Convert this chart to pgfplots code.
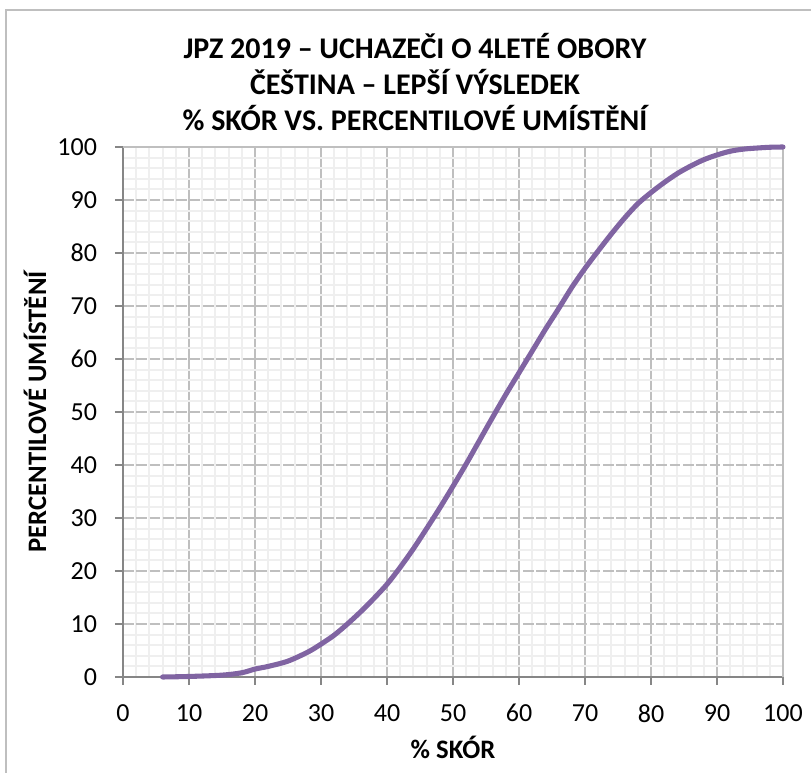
\documentclass[border=0pt]{standalone}
\usepackage{pgfplots}
\pgfplotsset{compat=1.18}
\usepackage{fontspec}
\setmainfont{Carlito}
\definecolor{curve}{HTML}{8064A2}
\definecolor{majgrid}{HTML}{BFBFBF}
\definecolor{mingrid}{HTML}{EFEFEF}
\definecolor{axisgray}{HTML}{868686}

\begin{document}
\begin{tikzpicture}
\useasboundingbox (0,0) rectangle (608.25pt,579pt);
% chart frame (only left and top edges visible)
\draw[majgrid, line width=1.2pt] (4.5pt,-10pt) -- (4.5pt,571.5pt) -- (640pt,571.5pt);

\begin{axis}[
    at={(92.25pt,71.25pt)}, anchor=south west,
    scale only axis,
    width=495pt, height=397.5pt,
    xmin=0, xmax=100, ymin=0, ymax=100,
    xtick={0,10,...,100}, ytick={0,10,...,100},
    minor tick num=4,
    axis lines=left,
    axis line style={axisgray, line width=1.2pt, -},
    tick align=outside,
    major tick length=6pt, minor tick length=0pt,
    tick style={axisgray, line width=1pt},
    grid=both,
    minor grid style={mingrid, line width=1.5pt},
    major x grid style={majgrid, line width=1.2pt},
    major y grid style={majgrid, line width=1.2pt, dash pattern=on 8pt off 2pt},
    /pgf/number format/assume math mode=true,
    ticklabel style={font=\fontsize{19.5}{22}\selectfont},
    xticklabel style={yshift=-11pt},
    yticklabel style={xshift=-10pt},
    clip=false,
]
\draw[majgrid, line width=1.2pt] (rel axis cs:0,1) -- (rel axis cs:1,1) -- (rel axis cs:1,0);
\addplot[curve, line width=3.8pt, smooth, line cap=round] coordinates {
(6,0) (10,0.1) (15,0.35) (18,0.8) (20,1.5) (22,2.0) (25,3.0) (28,4.7) (30,6.2)
(32,7.9) (34,10) (36,12.3) (38,14.8) (40,17.5) (42,20.7) (44,24.2) (46,28)
(48,31.9) (50,36) (52,40.2) (54,44.6) (56,49) (58,53.3) (60,57.4) (62,61.5)
(64,65.6) (66,69.5) (68,73.5) (70,77.1) (72,80.4) (74,83.6) (76,86.6) (78,89.3)
(80,91.4) (82,93.3) (84,95) (86,96.4) (88,97.6) (90,98.5) (92,99.2) (94,99.6)
(96,99.8) (98,99.95) (100,100)
};
\end{axis}

\node[align=center, font=\fontsize{22.5}{27}\selectfont\bfseries] at (311.25pt,517.5pt)
  {JPZ 2019 – UCHAZEČI O 4LETÉ OBORY\\ČEŠTINA – LEPŠÍ VÝSLEDEK\\\% SKÓR VS. PERCENTILOVÉ UMÍSTĚNÍ};
\node[font=\fontsize{20}{22}\selectfont\bfseries] at (339.75pt,18.75pt) {\% SKÓR};
\node[font=\fontsize{20}{22}\selectfont\bfseries, rotate=90] at (26.25pt,270pt) {PERCENTILOVÉ UMÍSTĚNÍ};
\end{tikzpicture}
\end{document}
